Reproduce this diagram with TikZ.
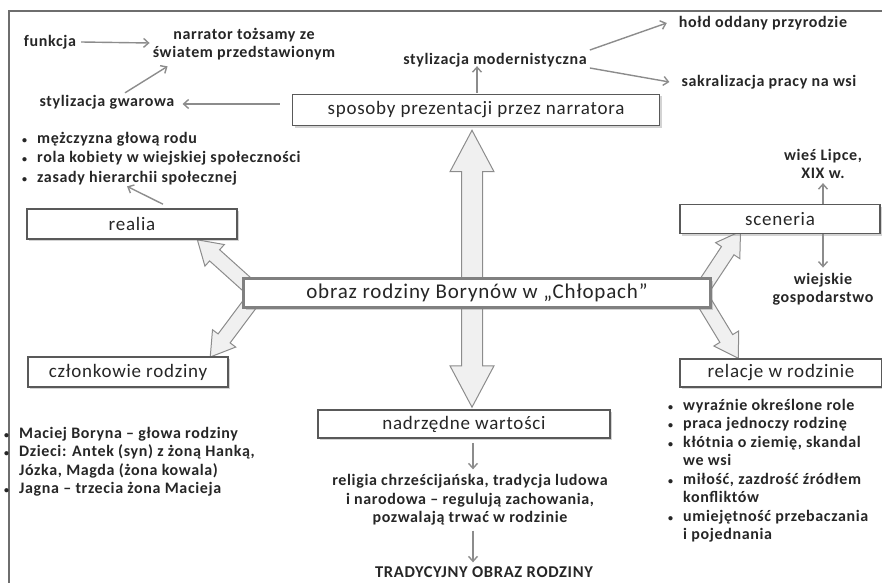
\documentclass[tikz,border=0pt]{standalone}
\usepackage{fontspec}
\setmainfont{Carlito}[LetterSpace=4]
\usetikzlibrary{arrows.meta, positioning, calc, shapes.arrows, shadows, backgrounds}
\definecolor{framegray}{HTML}{6E6E6E}
\definecolor{arrowgray}{HTML}{8C8C8C}
\definecolor{fatfill}{HTML}{F0F0F0}
\definecolor{textdark}{HTML}{262626}
\newcommand{\bitem}{\makebox[15pt][l]{\fontsize{10}{10}\selectfont\textbullet}}
\newcommand{\bcont}{\hspace*{15pt}}

\begin{document}
\begin{tikzpicture}[x=1pt, y=-1pt,
  box/.style={rectangle, draw=black!65, line width=1.6pt, fill=white,
              text=textdark, font=\fontsize{19}{22}\selectfont, inner sep=0pt,
              drop shadow={shadow xshift=2pt, shadow yshift=-2pt, opacity=0.35}},
  mainbox/.style={box, draw=black!50, line width=2.4pt,
                  font=\fontsize{21}{24}\selectfont},
  txt/.style={font=\bfseries\fontsize{16}{18.5}\selectfont, text=textdark,
              align=center, inner sep=0pt},
  lst/.style={txt, align=left, anchor=north west},
  arr/.style={-{Straight Barb[length=5pt, width=9pt]}, arrowgray, line width=1.4pt},
  fatshape/.style={single arrow, draw=arrowgray, fill=fatfill, line width=1pt,
                   inner sep=7pt, single arrow head extend=7pt,
                   single arrow tip angle=64, anchor=center},
  fat/.style={to path={let \p1=(\tikztostart), \p2=(\tikztotarget),
                \n1={atan2(\y2-\y1,\x2-\x1)}, \n2={veclen(\x2-\x1,\y2-\y1)} in
                node[fatshape, rotate=\n1, minimum height=\n2]
                at ($(\p1)!0.5!(\p2)$) {}}},
  fatboth/.style={to path={let \p1=(\tikztostart), \p2=(\tikztotarget),
                \n1={atan2(\y2-\y1,\x2-\x1)}, \n2={veclen(\x2-\x1,\y2-\y1)} in
                node[double arrow, draw=arrowgray, fill=fatfill, line width=1pt,
                     inner sep=10pt, double arrow head extend=11.5pt,
                     double arrow tip angle=56, rotate=\n1, minimum height=\n2]
                at ($(\p1)!0.5!(\p2)$) {}}},
]
  \useasboundingbox (0,0) rectangle (882,583);
  \draw[framegray, line width=1.5pt] (882,11) -- (9,11) -- (9,583);

  %% boxes
  \node[box, minimum width=367pt, minimum height=31pt] (sposoby) at (476,110)
       {sposoby prezentacji przez narratora};
  \node[box, minimum width=210pt, minimum height=30pt] (realia) at (132,224) {realia};
  \node[box, minimum width=200pt, minimum height=29pt] (sceneria) at (780,219) {sceneria};
  \node[mainbox, minimum width=467pt, minimum height=29pt] (obraz) at (477,293)
       {obraz rodziny Borynów w „Chłopach”};
  \node[box, minimum width=200pt, minimum height=30pt] (czlonkowie) at (128,372)
       {członkowie rodziny};
  \node[box, minimum width=202pt, minimum height=28pt] (relacje) at (781,373)
       {relacje w rodzinie};
  \node[box, minimum width=292pt, minimum height=28pt] (wartosci) at (464,424)
       {nadrzędne wartości};

  %% texts
  \node[txt] (funkcja)  at (50,42)  {funkcja};
  \node[txt] (narrator) at (244,44) {narrator tożsamy ze\\światem przedstawionym};
  \node[txt] (gwarowa)  at (107,102) {stylizacja gwarowa};
  \node[txt] (modern)   at (495,60)  {stylizacja modernistyczna};
  \node[txt] (hold)     at (763,23)  {hołd oddany przyrodzie};
  \node[txt] (sakral)   at (769,82)  {sakralizacja pracy na wsi};
  \node[txt] (lipce)    at (823,164) {wieś Lipce,\\XIX w.};
  \node[txt] (gosp)     at (823,289) {wiejskie\\gospodarstwo};
  \node[txt] (religia)  at (470,500) {religia chrześcijańska, tradycja ludowa\\
       i narodowa – regulują zachowania,\\pozwalają trwać w rodzinie};
  \node[txt, font=\bfseries\fontsize{16.5}{19}\selectfont] (tradycyjny) at (484,572)
       {TRADYCYJNY OBRAZ RODZINY};

  \node[lst, font=\bfseries\fontsize{16}{19.5}\selectfont] (realialist) at (22,132)
       {\bitem mężczyzna głową rodu\\
        \bitem rola kobiety w wiejskiej społeczności\\
        \bitem zasady hierarchii społecznej};
  \node[lst] (rodzinalist) at (4,427)
       {\bitem Maciej Boryna – głowa rodziny\\
        \bitem Dzieci: Antek (syn) z żoną Hanką,\\
        \bcont Józka, Magda (żona kowala)\\
        \bitem Jagna – trzecia żona Macieja};
  \node[lst] (relacjelist) at (668,399)
       {\bitem wyraźnie określone role\\
        \bitem praca jednoczy rodzinę\\
        \bitem kłótnia o ziemię, skandal\\
        \bcont we wsi\\
        \bitem miłość, zazdrość źródłem\\
        \bcont konfliktów\\
        \bitem umiejętność przebaczania\\
        \bcont i pojednania};

  %% thin arrows
  \draw[arr] ($(funkcja.east)+(5,0)$) -- ($(narrator.west)+(-3,-1)$);
  \draw[arr] ($(gwarowa.north)+(18,-2)$) -- ($(narrator.south west)+(15,6)$);
  \draw[arr] ($(sposoby.west)+(-12,-6)$) -- ($(gwarowa.east)+(8,2)$);
  \draw[arr] ($(sposoby.north)+(1,-1)$) -- ($(modern.south)+(-18,-1)$);
  \draw[arr] ($(modern.east)+(3,-10)$) -- ($(hold.west)+(-12,0)$);
  \draw[arr] ($(modern.east)+(3,8)$) -- ($(sakral.west)+(-12,0)$);
  \draw[arr] ($(realia.north)+(31,-4)$) -- ($(realialist.south west)+(105,1)$);
  \draw[arr] ($(sceneria.north)+(43,0)$) -- ($(lipce.south)+(0,4)$);
  \draw[arr] ($(sceneria.south)+(43,0)$) -- ($(gosp.north)+(0,-5)$);
  \draw[arr] ($(wartosci.south)+(9,4)$) -- ($(religia.north)+(3,-5)$);
  \draw[arr] ($(religia.south)+(3,5)$) -- ($(tradycyjny.north)+(-11,-4)$);

  %% hollow arrows
  \begin{scope}[on background layer]
    \path[fat] ($(obraz.west)+(12,-2)$) to ($(realia.south east)+(-36,4)$);
    \path[fat] ($(obraz.west)+(12,5)$) to ($(czlonkowie.north east)+(-15,-4)$);
    \path[fat] ($(obraz.east)+(-10,-3)$) to ($(sceneria.south west)+(58,2)$);
    \path[fat] ($(obraz.east)+(-10,5)$) to ($(relacje.north west)+(56,-5)$);
    \path[fatboth] ($(sposoby.south)+(-4,4)$) to ($(wartosci.north)+(8,-2)$);
  \end{scope}
\end{tikzpicture}
\end{document}
